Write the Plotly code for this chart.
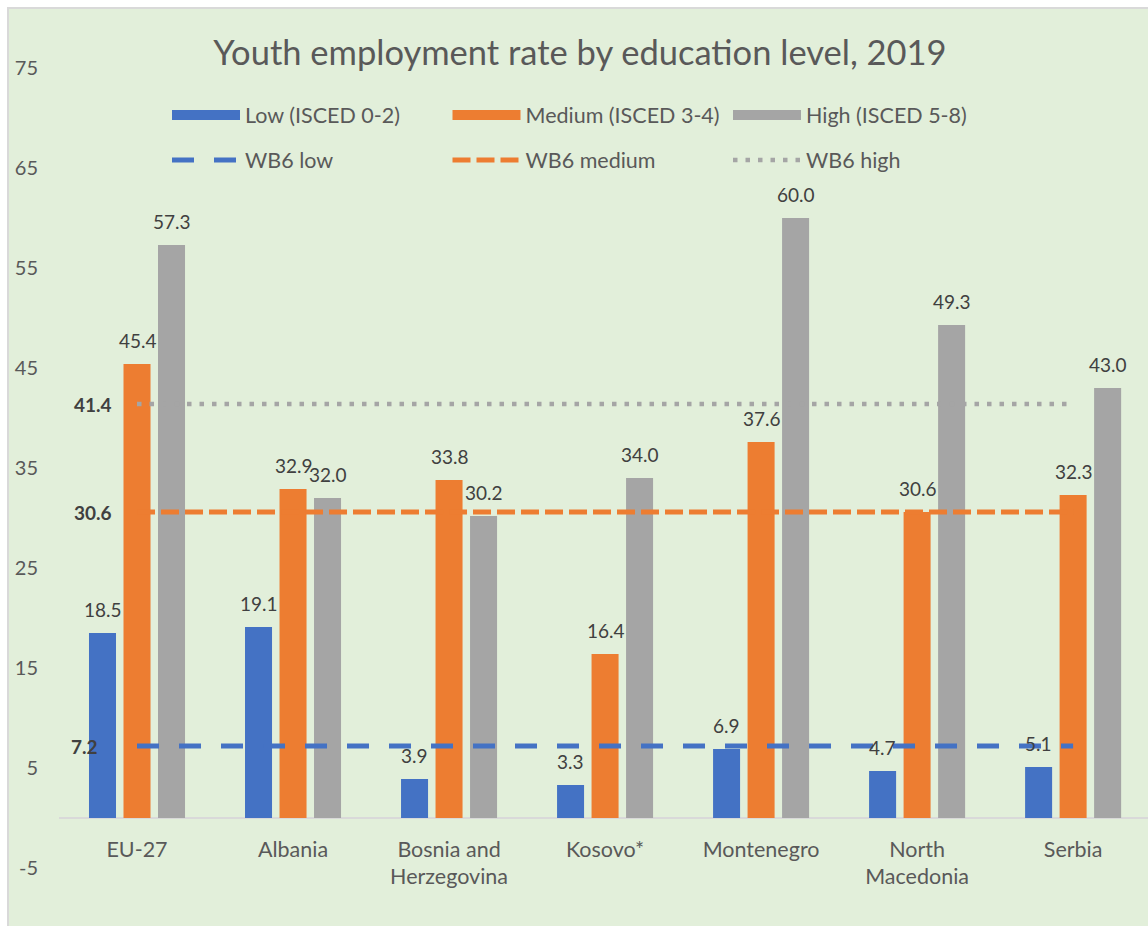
import plotly.graph_objects as go

# ---- data -------------------------------------------------------------
categories = ["EU-27", "Albania", "Bosnia and<br>Herzegovina", "Kosovo*",
              "Montenegro", "North<br>Macedonia", "Serbia"]
low = [18.5, 19.1, 3.9, 3.3, 6.9, 4.7, 5.1]
medium = [45.4, 32.9, 33.8, 16.4, 37.6, 30.6, 32.3]
high = [57.3, 32.0, 30.2, 34.0, 60.0, 49.3, 43.0]

wb6_low = 7.2
wb6_medium = 30.6
wb6_high = 41.4

y_ticks = [-5, 5, 15, 25, 35, 45, 55, 65, 75]
y_tick_text = ["-5", "5", "15", "25", "35", "45", "55", "65", "75"]

# ---- styling ------------------------------------------------------------
BLUE, ORANGE, GREY = "#4472C4", "#ED7D31", "#A5A5A5"
BG = "#E2EFDA"
TXT = "#595959"
LBL = "#404040"
FONT = "Lato"

W, H = 1148, 926
ML, MR, MT, MB = 59, 0, 18, 8
PW, PH = W - ML - MR, H - MT - MB
Y_RANGE = [-10, 80]


def px_x(p):
    return (p - ML) / PW


def px_y(p):
    return (H - MB - p) / PH


fig = go.Figure()

series = [
    ("Low (ISCED 0-2)", low, BLUE),
    ("Medium (ISCED 3-4)", medium, ORANGE),
    ("High (ISCED 5-8)", high, GREY),
]

for name, vals, col in series:
    fig.add_trace(go.Bar(
        x=categories, y=vals, name=name, marker_color=col,
        marker_line_width=0, showlegend=False, legendgroup=name,
        cliponaxis=False,
    ))

# wide swatches for the bar legend row
for name, vals, col in series:
    fig.add_trace(go.Scatter(
        x=[None], y=[None], mode="lines", name=name, legendgroup=name,
        line=dict(color=col, width=15), legend="legend",
    ))

# WB6 average reference lines
lines = [
    ("WB6 low", wb6_low, BLUE, "22px,20px", 5),
    ("WB6 medium", wb6_medium, ORANGE, "18px,6px", 5),
    ("WB6 high", wb6_high, GREY, "4.5px,8px", 4.5),
]
for name, val, col, dash, w in lines:
    fig.add_trace(go.Scatter(
        x=categories, y=[val] * len(categories), mode="lines", name=name,
        line=dict(color=col, width=w, dash=dash), legend="legend2",
        cliponaxis=False,
    ))

# value labels above the bars
offsets = [-34.5, 0.5, 34.5]
annotations = []
for (name, vals, col), dx in zip(series, offsets):
    for c, v in zip(categories, vals):
        annotations.append(dict(
            x=c, y=v, text=f"{v:.1f}", showarrow=False, xshift=dx, yshift=24,
            yanchor="middle", font=dict(family=FONT, size=19, color=LBL),
        ))

# bold labels at the start of each WB6 line
line_label_shift = {"WB6 low": -37, "WB6 medium": -23, "WB6 high": -23}
for name, val, col, dash, w in lines:
    annotations.append(dict(
        x=categories[0], y=val, text=f"<b>{val:.1f}</b>", showarrow=False,
        xanchor="right", xshift=line_label_shift[name], yanchor="middle",
        font=dict(family=FONT, size=19, color=LBL),
    ))

legend_common = dict(
    orientation="h", xanchor="left", yanchor="middle",
    bgcolor="rgba(0,0,0,0)", itemwidth=68, entrywidth=197.5,
    font=dict(family=FONT, size=21.5, color=TXT), itemclick=False,
    itemdoubleclick=False,
)

fig.update_layout(
    width=W, height=H,
    margin=dict(l=ML, r=MR, t=MT, b=MB, autoexpand=False),
    paper_bgcolor="white", plot_bgcolor="rgba(0,0,0,0)",
    font=dict(family=FONT, color=TXT),
    title=dict(
        text="Youth employment rate by education level, 2019",
        x=580 / W, xref="container", xanchor="center",
        y=1 - 53 / H, yref="container", yanchor="middle",
        font=dict(family=FONT, size=34.5, color=TXT),
    ),
    barmode="group", bargap=0.3365, bargroupgap=0.217,
    xaxis=dict(
        type="category", range=[-0.5, 6.48], anchor="free",
        position=(0 - Y_RANGE[0]) / (Y_RANGE[1] - Y_RANGE[0]),
        showline=False, showgrid=False, zeroline=False, ticks="",
        tickfont=dict(family=FONT, size=21.5, color=TXT),
        ticklabelstandoff=16, automargin=False,
    ),
    yaxis=dict(
        range=Y_RANGE, tickvals=y_ticks, ticktext=y_tick_text,
        showgrid=False, showline=False,
        zeroline=True, zerolinecolor="#D9D9D9", zerolinewidth=1.5,
        ticks="", tickfont=dict(family=FONT, size=20, color=TXT),
        ticklabelstandoff=20, automargin=False,
    ),
    legend=dict(x=px_x(167), y=px_y(115), **legend_common),
    legend2=dict(x=px_x(167), y=px_y(160), **legend_common),
    annotations=annotations,
    shapes=[dict(
        type="rect", xref="paper", yref="paper", layer="below",
        x0=px_x(8), x1=px_x(1160), y0=px_y(940), y1=px_y(8),
        fillcolor=BG, line=dict(color="#D9D9D9", width=2),
    )],
    showlegend=True,
)

fig.write_html("out.html")
